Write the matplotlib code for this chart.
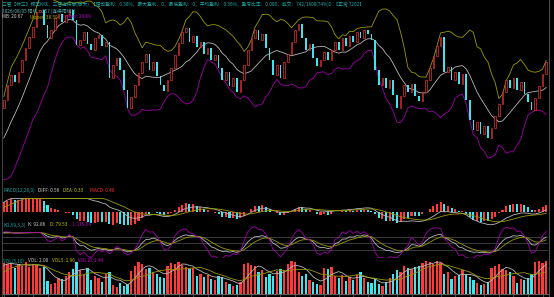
import numpy as np
import matplotlib
matplotlib.use("Agg")
import matplotlib.pyplot as plt
from matplotlib.lines import Line2D

W, H = 554, 297

# bars before the visible window, only used to warm up the indicators
pre_open = [3.5, 3.6, 3.7, 3.6, 3.5, 3.6, 3.7, 3.8, 3.7, 3.6,
            3.7, 3.8, 4.0, 4.3, 4.8, 5.4, 6.0, 6.8, 7.7]
pre_close = [3.6, 3.7, 3.6, 3.5, 3.6, 3.7, 3.8, 3.7, 3.6, 3.7,
             3.8, 4.0, 4.3, 4.8, 5.4, 6.0, 6.8, 7.7, 9.2]
pre_vol = [6, 5, 7, 6, 5, 6, 7, 6, 5, 7,
           9, 12, 15, 18, 21, 24, 27, 30, 32]

opens = [9.2, 10.0, 11.5, 12.5, 11.8, 12.8, 14.0, 15.2, 16.3, 17.3,
         18.8, 19.0, 17.5, 16.2, 17.0, 18.2, 18.6, 17.8, 18.5, 19.0,
         18.0, 15.5, 16.0, 16.8, 15.6, 15.0, 16.2, 16.5, 15.4, 15.8,
         12.2, 13.5, 14.2, 13.0, 11.0, 9.2, 10.3, 11.5, 12.7, 13.8,
         14.6, 13.0, 13.8, 12.4, 11.5, 10.9, 12.0, 13.2, 14.5, 15.7,
         16.8, 17.2, 15.8, 16.4, 15.3, 15.8, 14.6, 15.2, 14.0, 14.5,
         13.2, 12.0, 12.8, 11.4, 12.2, 10.8, 12.0, 13.5, 15.0, 16.2,
         17.0, 16.0, 16.6, 15.2, 14.0, 12.5, 13.5, 12.2, 13.8, 14.6,
         15.8, 17.0, 17.6, 16.2, 15.0, 15.6, 14.2, 13.4, 14.0, 14.8,
         14.0, 15.0, 15.8, 15.0, 16.2, 15.4, 16.4, 15.8, 16.8, 16.2,
         17.0, 16.6, 16.0, 13.0, 11.5, 12.2, 11.2, 12.0, 10.5, 9.2,
         10.4, 11.5, 10.8, 11.6, 10.4, 9.9, 10.8, 12.0, 13.2, 14.4,
         15.4, 16.3, 12.8, 13.3, 12.0, 12.8, 11.6, 12.6, 10.0, 8.0,
         7.0, 7.8, 6.6, 7.4, 6.2, 7.2, 8.4, 9.6, 10.8, 12.0,
         11.2, 12.2, 11.0, 11.8, 10.6, 9.8, 9.0, 10.2, 11.4, 12.6]

closes = [10.0, 11.5, 12.5, 11.8, 12.8, 14.0, 15.2, 16.3, 17.3, 18.8,
          19.0, 17.5, 16.2, 17.0, 18.2, 18.6, 17.8, 18.5, 19.0, 18.0,
          15.5, 16.0, 16.8, 15.6, 15.0, 16.2, 16.5, 15.4, 15.8, 12.2,
          13.5, 14.2, 13.0, 11.0, 9.2, 10.3, 11.5, 12.7, 13.8, 14.6,
          13.0, 13.8, 12.4, 11.5, 10.9, 12.0, 13.2, 14.5, 15.7, 16.8,
          17.2, 15.8, 16.4, 15.3, 15.8, 14.6, 15.2, 14.0, 14.5, 13.2,
          12.0, 12.8, 11.4, 12.2, 10.8, 12.0, 13.5, 15.0, 16.2, 17.0,
          16.0, 16.6, 15.2, 14.0, 12.5, 13.5, 12.2, 13.8, 14.6, 15.8,
          17.0, 17.6, 16.2, 15.0, 15.6, 14.2, 13.4, 14.0, 14.8, 14.0,
          15.0, 15.8, 15.0, 16.2, 15.4, 16.4, 15.8, 16.8, 16.2, 17.0,
          16.6, 16.0, 13.0, 11.5, 12.2, 11.2, 12.0, 10.5, 9.2, 10.4,
          11.5, 10.8, 11.6, 10.4, 9.9, 10.8, 12.0, 13.2, 14.4, 15.4,
          16.3, 12.8, 13.3, 12.0, 12.8, 11.6, 12.6, 10.0, 8.0, 7.0,
          7.8, 6.6, 7.4, 6.2, 7.2, 8.4, 9.6, 10.8, 12.0, 11.2,
          12.2, 11.0, 11.8, 10.6, 9.8, 9.0, 10.2, 11.4, 12.6, 13.8]

vols = [31, 30, 31, 26, 30, 28, 32, 27, 30, 29,
        26, 27, 13, 10, 11, 16, 15, 18, 22, 25,
        32, 24, 20, 26, 14, 18, 16, 12, 20, 22,
        9, 7, 11, 8, 10, 23, 28, 32, 30, 25,
        26, 22, 20, 17, 16, 28, 31, 30, 32, 29,
        27, 25, 26, 18, 20, 17, 19, 15, 14, 18,
        17, 12, 10, 8, 9, 12, 30, 31, 29, 28,
        22, 24, 17, 20, 18, 23, 25, 24, 30, 33,
        32, 22, 18, 20, 14, 12, 10, 9, 26, 25,
        27, 18, 16, 19, 13, 17, 14, 19, 22, 16,
        12, 11, 15, 10, 8, 12, 16, 20, 24, 22,
        28, 26, 25, 27, 28, 31, 33, 32, 30, 33,
        31, 20, 22, 15, 18, 19, 24, 20, 17, 14,
        11, 9, 10, 12, 26, 28, 30, 25, 24, 22,
        18, 11, 15, 14, 16, 20, 32, 33, 31, 33]

title_line = ("三管【标三】频率K线，三管连续做(做大)  【理论盈利：0.38%，最大盈利：0，最低盈利：0，"
              "平均盈利：0.36%，盈亏比率：0.080，成交：742/1808(74%)】【正常 7202】")
date_line = "2026/08/05 阳线：357 (连续阳线1)"

RED = '#ff3838'
CYAN = '#40e4ec'
GRAY = '#b8b8b8'
OLIVE = '#9a9a00'
PURPLE = '#a000a8'
TEAL = '#1ca8a8'

plt.rcParams['font.family'] = ['Noto Sans CJK SC', 'DejaVu Sans']


def ma(a, p):
    out = np.full(len(a), np.nan)
    for i in range(p - 1, len(a)):
        out[i] = a[i - p + 1:i + 1].mean()
    return out


def ema(a, p):
    out = np.empty(len(a))
    out[0] = a[0]
    for i in range(1, len(a)):
        out[i] = (2 * a[i] + (p - 1) * out[i - 1]) / (p + 1)
    return out


def sma(a, p, m, start=50.0):
    out = np.empty(len(a))
    prev = start
    for i in range(len(a)):
        prev = (m * a[i] + (p - m) * prev) / p
        out[i] = prev
    return out


o = np.array(pre_open + opens, float)
c = np.array(pre_close + closes, float)
v = np.array(pre_vol + vols, float)
hi = np.maximum(o, c)
lo = np.minimum(o, c)
k0 = len(pre_close)
n = len(closes)
x = np.arange(n)
up = np.array(closes) >= np.array(opens)

# BOLL(10,2)
mid = ma(c, 10)
sd = np.array([c[max(0, i - 9):i + 1].std() for i in range(len(c))])
upper = mid + 2 * sd
lower = mid - 2 * sd

# MACD(12,26,9)
diff = ema(c, 12) - ema(c, 26)
dea = ema(diff, 9)
hist = 2 * (diff - dea)

# KDJ(9,3,3)
llv = np.array([lo[max(0, i - 8):i + 1].min() for i in range(len(c))])
hhv = np.array([hi[max(0, i - 8):i + 1].max() for i in range(len(c))])
rsv = (c - llv) / np.where(hhv - llv == 0, 1, hhv - llv) * 100
K = sma(rsv, 3, 1)
D = sma(K, 3, 1)
J = 3 * K - 2 * D

vma5 = ma(v, 5)
vma10 = ma(v, 10)

fig = plt.figure(figsize=(W / 100, H / 100), dpi=100, facecolor='black')


def panel(top, bottom):
    ax = fig.add_axes([2 / W, 1 - bottom / H, 546 / W, (bottom - top) / H])
    ax.set_facecolor('none')
    ax.set_xlim(-0.5, n - 0.5)
    for s in ax.spines.values():
        s.set_visible(False)
    ax.set_xticks([])
    ax.set_yticks([])
    return ax


def label(xp, yp, s, color):
    fig.text(xp / W, 1 - yp / H, s, color=color, fontsize=3.4, va='center', ha='left')


bar_colors = [RED if u else CYAN for u in up]

# main price panel
ax = panel(0, 183)
ax.set_ylim(1.7, 20)
ax.plot(x, upper[k0:], color=OLIVE, lw=0.6, zorder=1)
ax.plot(x, mid[k0:], color=GRAY, lw=0.6, zorder=1)
ax.plot(x, lower[k0:], color=PURPLE, lw=0.6, zorder=1)
op = np.array(opens)
cl = np.array(closes)
ax.bar(x[up], (cl - op)[up], bottom=op[up], width=0.45, facecolor='black',
       edgecolor=RED, lw=0.45, zorder=2)
ax.bar(x[~up], (op - cl)[~up], bottom=cl[~up], width=0.45, color=CYAN, lw=0, zorder=2)

# MACD panel: scaled on the settled part, early values held at the top edge
ax = panel(198, 226)
s0 = k0 + 45
A = np.abs(np.concatenate([diff[s0:], dea[s0:]])).max() * 1.1
ax.set_ylim(-A, A)
lim = A * 0.96
ax.bar(x, np.clip(hist[k0:], -lim, lim), width=0.55, color=bar_colors, lw=0)
ax.plot(x, np.clip(diff[k0:], -lim, lim), color=GRAY, lw=0.6)
ax.plot(x, np.clip(dea[k0:], -lim, lim), color=OLIVE, lw=0.6)

# KDJ panel
ax = panel(226, 258)
ax.set_ylim(-17.5, 130)
for lvl in (20, 50, 80):
    ax.axhline(lvl, color='#3a3a3a', lw=0.7)
ax.plot(x, K[k0:], color=GRAY, lw=0.6)
ax.plot(x, D[k0:], color=OLIVE, lw=0.6)
ax.plot(x, J[k0:], color=PURPLE, lw=0.6)

# volume panel
ax = panel(258, 294)
ax.set_ylim(0, 36)
ax.bar(x, vols, width=0.62, color=bar_colors, lw=0)
ax.plot(x, vma5[k0:], color=GRAY, lw=0.6)
ax.plot(x, vma10[k0:], color=OLIVE, lw=0.6)
ax.spines['bottom'].set_visible(True)
ax.spines['bottom'].set_color('#707070')
ax.spines['bottom'].set_linewidth(0.6)
ax.set_xticks(x[::4])
ax.set_xticklabels([])
ax.tick_params(axis='x', colors='#707070', length=2, width=0.5)

# frame lines
fig.add_artist(Line2D([1.5 / W, 1.5 / W], [0, 1], color='#505050', lw=0.6))
fig.add_artist(Line2D([548.5 / W, 548.5 / W], [0, 1], color='#606060', lw=0.6))

# texts
label(2, 4.5, title_line, TEAL)
label(2, 11, date_line, '#5fb4b4')
label(2, 17, "MB: 20.67", '#d0d0d0')
label(30, 17, "Upper: 38.59", '#b4b400')
label(63, 17, "Lower: 20.89", '#c000c8')

label(3, 190, "MACD(12,26,9)", TEAL)
label(38, 190, "DIFF: 0.56", '#d0d0d0')
label(63, 190, "DEA: 0.33", '#c8c800')
label(90, 190, "MACD: 0.46", '#ff3030')

label(3, 225, "KDJ(9,3,3)", TEAL)
label(28, 225, "K: 92.86", '#d0d0d0')
label(50, 225, "D: 79.53", '#c8c800')
label(72, 225, "J: 119.54", '#c000c8')

label(3, 261, "VOL(5,10)", TEAL)
label(28, 261, "VOL: 2.00", '#d0d0d0')
label(52, 261, "VOL5: 1.96", '#c8c800')
label(78, 261, "VOL10: 1.44", '#c000c8')

fig.savefig('out.png', dpi=100, facecolor='black')
